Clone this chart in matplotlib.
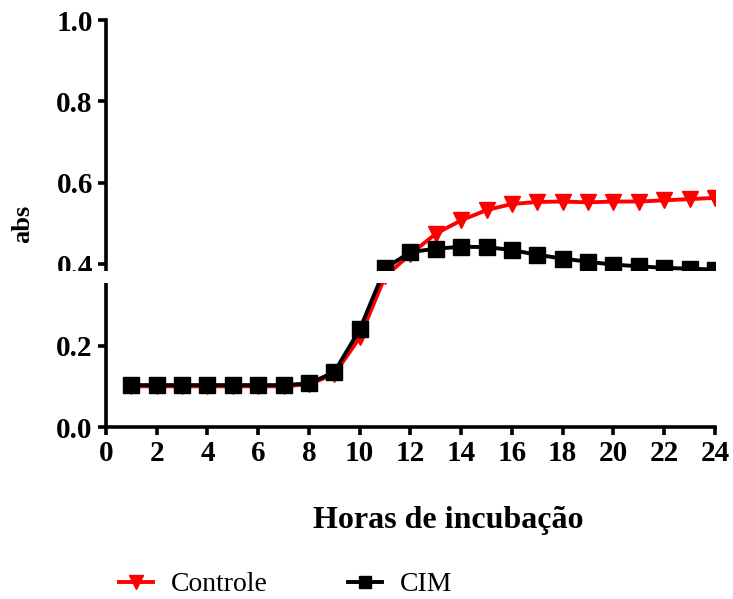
import matplotlib
matplotlib.use("Agg")
import matplotlib.pyplot as plt
from matplotlib.patches import Rectangle

hours = list(range(1, 25))
controle = [0.10, 0.10, 0.10, 0.10, 0.10, 0.10, 0.10, 0.105, 0.13, 0.22, 0.37, 0.425,
            0.475, 0.508, 0.533, 0.548, 0.553, 0.554, 0.552, 0.554, 0.554, 0.557, 0.560, 0.563]
cim = [0.103, 0.103, 0.103, 0.103, 0.103, 0.103, 0.103, 0.107, 0.135, 0.24, 0.39, 0.43,
       0.438, 0.443, 0.442, 0.435, 0.423, 0.414, 0.406, 0.399, 0.395, 0.391, 0.389, 0.387]
xticks = list(range(0, 25, 2))
yticks = [0.0, 0.2, 0.4, 0.6, 0.8, 1.0]

plt.rcParams['font.family'] = ['Liberation Serif', 'DejaVu Serif']

fig = plt.figure(figsize=(7.33, 5.99), dpi=100)
ax = fig.add_axes([0.1446, 0.2871, 0.8308, 0.6795])

ax.plot(hours, controle, color='#ff0000', lw=2.8, marker='v', markersize=12,
        label='Controle', zorder=3)
ax.plot(hours, cim, color='black', lw=2.8, marker='s', markersize=11,
        label='CIM', zorder=4)

ax.set_xlim(0, 24)
ax.set_ylim(0, 1.0)
ax.set_xticks(xticks)
ax.set_yticks(yticks)
ax.set_yticklabels([f"{v:.1f}" for v in yticks])
for s in ['top', 'right']:
    ax.spines[s].set_visible(False)
for s in ['left', 'bottom']:
    ax.spines[s].set_linewidth(2.6)
ax.tick_params(width=2.6, length=6, labelsize=21, direction='out')
for lab in ax.get_xticklabels() + ax.get_yticklabels():
    lab.set_fontweight('bold')

ax.set_xlabel('Horas de incubação', fontsize=23, fontweight='bold', labelpad=27)
ax.xaxis.set_label_coords(0.562, -0.195)
ax.set_ylabel('abs', fontsize=19, fontweight='bold', labelpad=16)

leg = fig.legend(loc='lower left', bbox_to_anchor=(0.128, -0.039), ncol=2, frameon=False,
                 fontsize=20, handlelength=1.22, columnspacing=2.9, handletextpad=0.65,
                 markerscale=0.8)

# white band (axis break)
fig.add_artist(Rectangle((0.0, 0.5275), 1.0, 0.020, transform=fig.transFigure,
                         facecolor='white', edgecolor='none', zorder=10))

fig.savefig('out.png', dpi=100)
